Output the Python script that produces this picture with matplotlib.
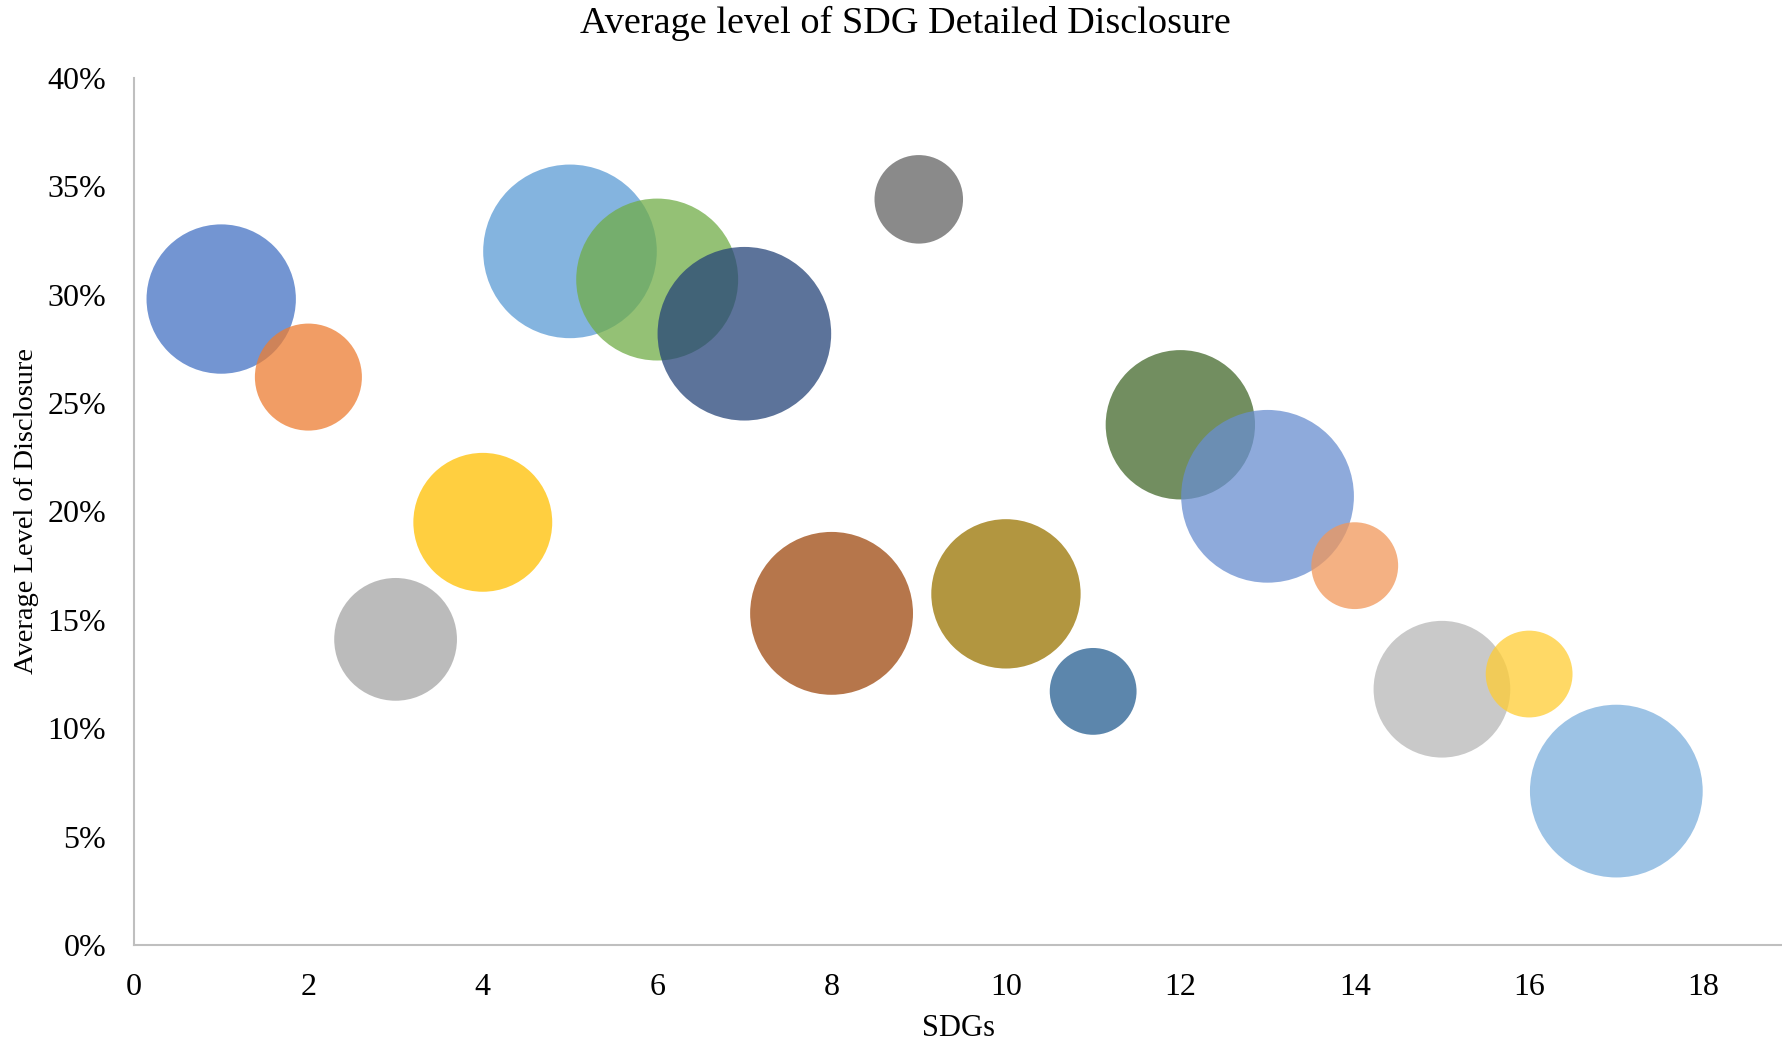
import numpy as np
import matplotlib.pyplot as plt
from matplotlib.ticker import PercentFormatter

plt.rcParams['font.family'] = ['Liberation Serif', 'DejaVu Serif']

# SDG number, average disclosure level (%), bubble size
sdgs = [1, 2, 3, 4, 5, 6, 7, 8, 9, 10, 11, 12, 13, 14, 15, 16, 17]
disclosure = [29.8, 26.2, 14.1, 19.5, 32.0, 30.7, 28.2, 15.3, 34.4,
              16.2, 11.7, 24.0, 20.7, 17.5, 11.8, 12.5, 7.1]
bubble_size = [74, 38, 50, 64, 100, 87, 100, 88, 26,
               74, 25, 74, 99, 25, 62, 25, 99]

colors = ['#4472C4', '#ED7D31', '#A5A5A5', '#FFC000', '#5B9BD5', '#70AD47',
          '#264478', '#9E480E', '#636363', '#997300', '#255E91', '#43682B',
          '#698ED0', '#F1975A', '#B7B7B7', '#FFCD33', '#7CAFDD']

fig = plt.figure(figsize=(17.82, 10.45), dpi=100)
ax = fig.add_axes([0.0752, 0.0957, 0.9248, 0.8297])

# largest bubble radius ~62.5 pt, area scales with size
max_r = 62.5
s = [(2 * max_r) ** 2 * b / max(bubble_size) for b in bubble_size]
for x, y, si, c in zip(sdgs, disclosure, s, colors):
    ax.scatter(x, y, s=si, color=c, alpha=0.75, edgecolors='none', zorder=3)

ax.set_xlim(0, 18.9)
ax.set_ylim(0, 40)
ax.set_xticks(np.arange(0, 19, 2))
ax.set_yticks(np.arange(0, 41, 5))
ax.yaxis.set_major_formatter(PercentFormatter(decimals=0))
ax.tick_params(length=0, labelsize=23, pad=20)

for side in ['top', 'right']:
    ax.spines[side].set_visible(False)
for side in ['left', 'bottom']:
    ax.spines[side].set_color('#BFBFBF')
    ax.spines[side].set_linewidth(1.5)

fig.text(0.508, 0.978, 'Average level of SDG Detailed Disclosure',
         fontsize=27.5, ha='center', va='center')
ax.set_xlabel('SDGs', fontsize=22, labelpad=9)
ax.set_ylabel('Average Level of Disclosure', fontsize=20.5, labelpad=6)

fig.savefig('out.png', dpi=100)
